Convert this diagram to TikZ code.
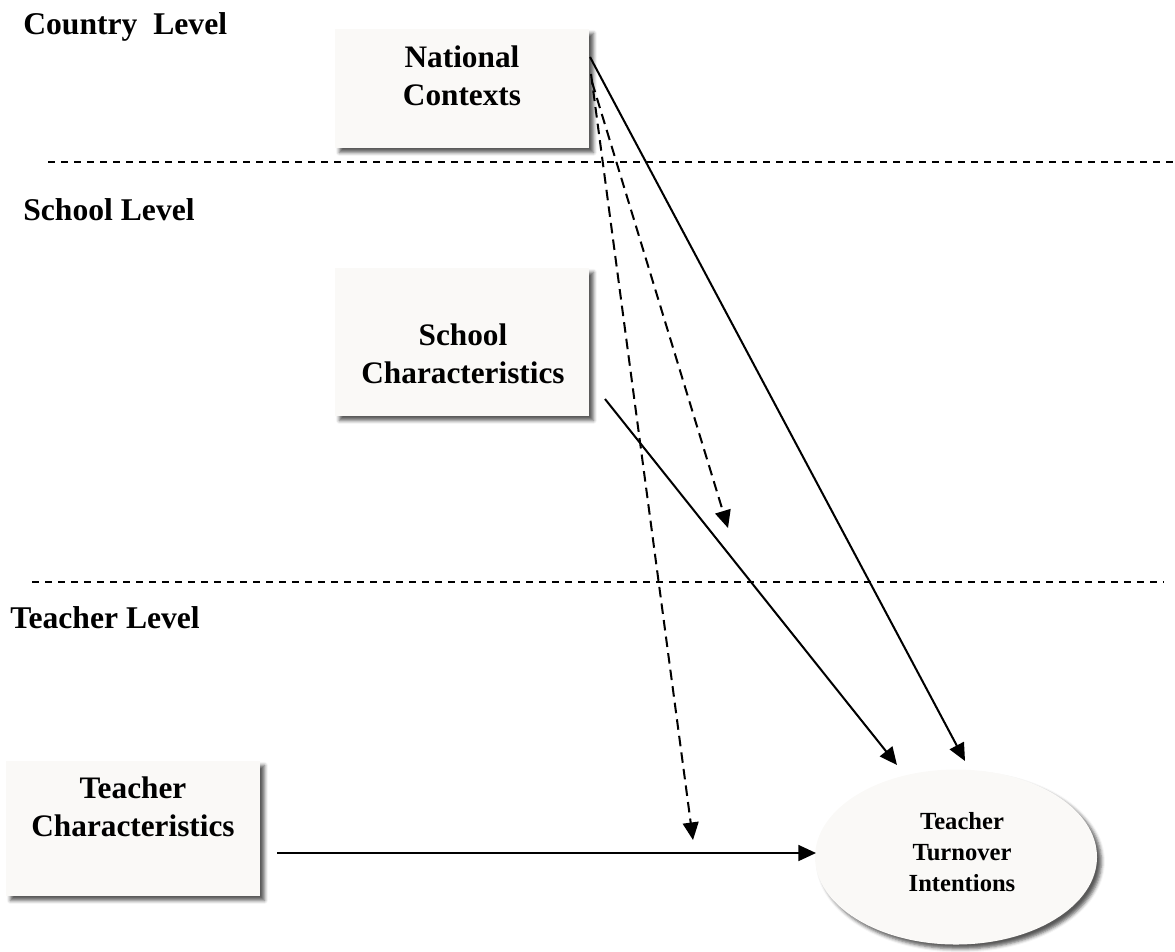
\documentclass[tikz,border=0pt]{standalone}
\usepackage{fontspec}
\setmainfont{Liberation Serif}
\usetikzlibrary{arrows.meta,shapes.geometric,shadows.blur}
\definecolor{boxfill}{RGB}{250,249,247}
\begin{document}
\begin{tikzpicture}[x=0.02cm,y=-0.02cm,
  shade box/.style={draw=none, fill=boxfill, inner sep=0pt,
    blur shadow={shadow xshift=2.5pt, shadow yshift=-2.5pt, shadow blur radius=2pt, shadow opacity=65}},
  boxtext/.style={align=center, inner sep=0pt, font=\bfseries\fontsize{17.8}{21.6}\selectfont},
  lvltext/.style={anchor=base west, inner sep=0pt, font=\bfseries\fontsize{18}{22}\selectfont},
  sep/.style={line width=1pt, dash pattern=on 4pt off 3.4pt},
  arr/.style={line width=1.15pt, -{Triangle[length=10pt,width=9pt]}},
  darr/.style={arr, dash pattern=on 6pt off 3.5pt}]
\useasboundingbox (0,0) rectangle (1175,951);
% level labels
\node[lvltext] (lc) at (23,34) {Country\ \ Level};
\node[lvltext] (ls) at (23,220) {School Level};
\node[lvltext] (lt) at (10,628) {Teacher Level};
% separators
\coordinate (s1a) at (48,162);
\coordinate (s1b) at (1175,162);
\coordinate (s2a) at (32,582);
\coordinate (s2b) at (1164,582);
\draw[sep] (s1a) -- (s1b);
\draw[sep] (s2a) -- (s2b);
% boxes
\node[shade box, minimum width=254*0.02cm, minimum height=119*0.02cm] (nat) at (462,88.5) {};
\node[boxtext] (natT) at (462,76) {National\\Contexts};
\node[shade box, minimum width=254*0.02cm, minimum height=148*0.02cm] (sch) at (462,342) {};
\node[boxtext] (schT) at (463,354) {School\\Characteristics};
\node[shade box, minimum width=254*0.02cm, minimum height=135*0.02cm] (tch) at (133,828.5) {};
\node[boxtext] (tchT) at (133,807) {Teacher\\Characteristics};
\node[shade box, ellipse, minimum width=282*0.02cm, minimum height=175*0.02cm] (ell) at (956,857) {};
\node[boxtext, font=\bfseries\fontsize{14}{17.6}\selectfont] (ellT) at (962,852) {Teacher\\Turnover\\Intentions};
% connector end points
\coordinate (n1) at (590,57);
\coordinate (n2) at (591,74);
\coordinate (n3) at (592,82);
\coordinate (e1) at (965,761);
\coordinate (e2) at (897,765);
\coordinate (m1) at (728,528);
\coordinate (m2) at (693,840);
\coordinate (s1) at (605,399);
\coordinate (t1) at (277,853);
\coordinate (e3) at (816,853);
% connectors
\draw[arr] (n1) -- (e1);
\draw[darr] (n2) -- (m2);
\draw[darr] (n3) -- (m1);
\draw[arr] (s1) -- (e2);
\draw[arr] (t1) -- (e3);
\end{tikzpicture}
\end{document}
